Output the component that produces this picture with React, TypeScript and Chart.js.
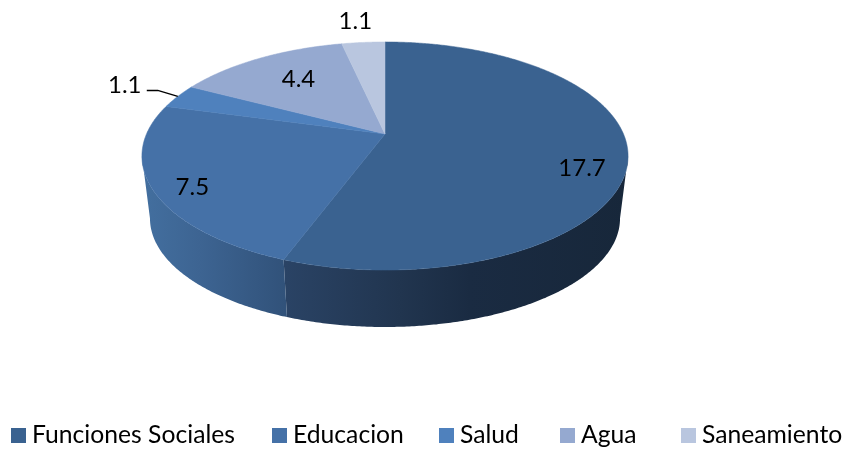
import React, { useEffect, useRef } from "react";
import { Chart, registerables } from "chart.js";

Chart.register(...registerables);

const categories = ["Funciones Sociales", "Educacion", "Salud", "Agua", "Saneamiento"];
const values = [17.7, 7.5, 1.1, 4.4, 1.1];
const topColors = ["#3a6290", "#4571a7", "#4f81bd", "#95a9d0", "#b9c6df"];
const labelOffsets = [[-46, 14], [40, -2], [-53, -11], [39, 21], [-8, -21]];
const legendStarts = [11, 272, 439, 560, 681];
const wallStops: Record<number, [number, string][]> = {
  0: [[285, "#2a4365"], [400, "#21354f"], [470, "#1a2b42"], [628, "#17273a"]],
  1: [[143, "#436f9f"], [200, "#3d6492"], [285, "#31527a"]],
};

const FONT = "Lato, 'Open Sans', sans-serif";
const TOP = { cx: 385, cy: 134, a: 238.5, b: 109.8 };
const BOTTOM = { cx: 385, cy: 197.5, a: 230.6, b: 104.5 };
const K = -0.193;

type Frame = typeof TOP;
const project = (f: Frame, angle: number) => {
  const theta = angle + Math.PI / 2;
  const x = Math.sin(theta);
  const y = -Math.cos(theta);
  const w = 1 + K * y;
  return { x: f.cx + (f.a * x) / w, y: f.cy + (f.b * y) / w };
};

const STEP = Math.PI / 180 / 2;
const samples = (start: number, end: number) => {
  const out: number[] = [];
  for (let t = start; t < end; t += STEP) out.push(t);
  out.push(end);
  return out;
};

const pie3d = {
  id: "pie3d",
  beforeDatasetsDraw(chart: any) {
    const ctx: CanvasRenderingContext2D = chart.ctx;
    const arcs = chart.getDatasetMeta(0).data;
    // Side wall: only the part facing the viewer, between the silhouette tangents
    const tangent = Math.acos(K);
    const wallFrom = tangent - Math.PI / 2;
    const wallTo = 2 * Math.PI - tangent - Math.PI / 2;
    arcs.forEach((arc: any, i: number) => {
      const start = Math.max(arc.startAngle, wallFrom);
      const end = Math.min(arc.endAngle, wallTo);
      if (end <= start || !wallStops[i]) return;
      const ts = samples(start, end);
      ctx.beginPath();
      ts.forEach((t, n) => {
        const p = project(TOP, t);
        if (n === 0) ctx.moveTo(p.x, p.y);
        else ctx.lineTo(p.x, p.y);
      });
      ts.slice().reverse().forEach((t) => {
        const p = project(BOTTOM, t);
        ctx.lineTo(p.x, p.y);
      });
      ctx.closePath();
      const stops = wallStops[i];
      const x0 = stops[0][0];
      const x1 = stops[stops.length - 1][0];
      const g = ctx.createLinearGradient(x0, 0, x1, 0);
      stops.forEach(([x, c]) => g.addColorStop((x - x0) / (x1 - x0), c));
      ctx.fillStyle = g;
      ctx.fill();
    });
    // Top face
    arcs.forEach((arc: any) => {
      ctx.beginPath();
      ctx.moveTo(TOP.cx, TOP.cy);
      samples(arc.startAngle, arc.endAngle).forEach((t) => {
        const p = project(TOP, t);
        ctx.lineTo(p.x, p.y);
      });
      ctx.closePath();
      ctx.fillStyle = arc.options.backgroundColor;
      ctx.strokeStyle = arc.options.backgroundColor;
      ctx.lineWidth = 0.5;
      ctx.fill();
      ctx.stroke();
    });
    // Leader line of the small slice
    const a2 = arcs[2];
    const anchor = project(TOP, (a2.startAngle + a2.endAngle) / 2);
    ctx.beginPath();
    ctx.moveTo(anchor.x, anchor.y);
    ctx.lineTo(anchor.x - 20, anchor.y - 6);
    ctx.lineTo(anchor.x - 31, anchor.y - 6);
    ctx.strokeStyle = "#000000";
    ctx.lineWidth = 1.5;
    ctx.stroke();
    // Data labels
    ctx.font = `24px ${FONT}`;
    ctx.fillStyle = "#000000";
    ctx.textAlign = "center";
    ctx.textBaseline = "middle";
    arcs.forEach((arc: any, i: number) => {
      const p = project(TOP, (arc.startAngle + arc.endAngle) / 2);
      ctx.fillText(String(values[i]), p.x + labelOffsets[i][0], p.y + labelOffsets[i][1]);
    });
    return false;
  },
  afterDraw(chart: any) {
    const ctx: CanvasRenderingContext2D = chart.ctx;
    ctx.save();
    ctx.font = `24.7px ${FONT}`;
    ctx.textAlign = "left";
    ctx.textBaseline = "alphabetic";
    chart.data.labels.forEach((label: string, i: number) => {
      const x = legendStarts[i];
      ctx.fillStyle = topColors[i];
      ctx.fillRect(x, 428, 15, 15);
      ctx.fillStyle = "#000000";
      ctx.fillText(label, x + 21, 443);
    });
    ctx.restore();
  },
};

export default function App() {
  const ref = useRef<HTMLCanvasElement>(null);
  useEffect(() => {
    const chart = new Chart(ref.current as HTMLCanvasElement, {
      type: "pie",
      data: {
        labels: categories,
        datasets: [{ data: values, backgroundColor: topColors, borderWidth: 0 }],
      },
      options: {
        animation: false,
        responsive: false,
        plugins: { legend: { display: false }, tooltip: { enabled: false } },
      },
      plugins: [pie3d],
    } as any);
    return () => chart.destroy();
  }, []);
  return (
    <div style={{ position: "absolute", left: 0, top: 0, width: 846, height: 449, background: "#ffffff" }}>
      <canvas ref={ref} width={846} height={449} style={{ display: "block" }} />
    </div>
  );
}
